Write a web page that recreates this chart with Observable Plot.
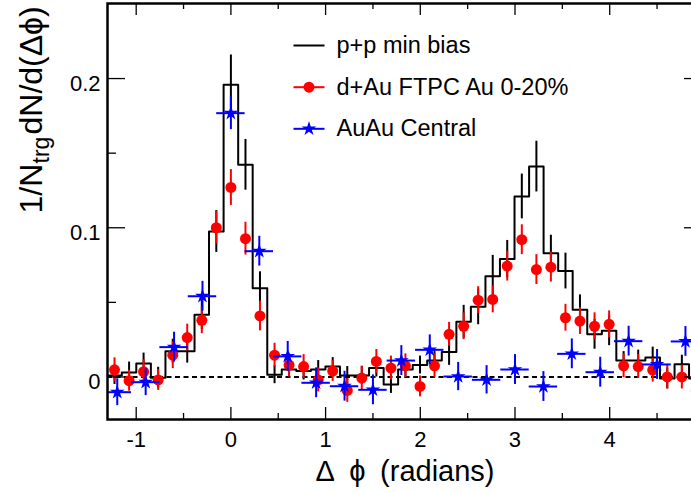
<!DOCTYPE html>
<html>
<head>
<meta charset="utf-8">
<script src="https://cdn.jsdelivr.net/npm/d3@7"></script>
<script src="https://cdn.jsdelivr.net/npm/@observablehq/plot@0.6"></script>
<style>
html, body { margin: 0; padding: 0; background: #fff; overflow: hidden; }
#chart { width: 691px; height: 493px; overflow: hidden; }
</style>
</head>
<body>
<div id="chart"></div>
<script>
// ---- data ----
// narrow bins shared by p+p and d+Au (bin centres, radians)
const narrowBins = [-1.229, -1.075, -0.922, -0.768, -0.614, -0.461, -0.307, -0.154, 0.000, 0.154,
  0.307, 0.461, 0.614, 0.768, 0.922, 1.075, 1.229, 1.382, 1.536, 1.690,
  1.843, 1.997, 2.150, 2.304, 2.458, 2.611, 2.765, 2.918, 3.072, 3.226,
  3.379, 3.533, 3.686, 3.840, 3.994, 4.147, 4.301, 4.454, 4.608, 4.762, 4.915];
const ppValues = [0.001, 0.003, 0.009, -0.0005, 0.0173, 0.0173, 0.0417, 0.0975, 0.1958, 0.1422,
  0.0595, 0.0015, 0.005, 0.004, 0.005, 0.007, 0.001, 0.001, 0.006, -0.005,
  0.005, 0.008, 0.011, 0.0168, 0.037, 0.047, 0.0675, 0.079, 0.121, 0.141,
  0.083, 0.071, 0.045, 0.0286, 0.031, 0.011, 0.011, 0.013, -0.001, 0.0086, -0.001];
const ppErrors = [0.006, 0.007, 0.007, 0.007, 0.008, 0.008, 0.01, 0.014, 0.02, 0.017,
  0.011, 0.006, 0.006, 0.006, 0.006, 0.006, 0.006, 0.006, 0.006, 0.006,
  0.006, 0.006, 0.007, 0.009, 0.011, 0.012, 0.014, 0.0125, 0.015, 0.017,
  0.012, 0.012, 0.01, 0.01, 0.01, 0.006, 0.007, 0.007, 0.007, 0.006, 0.007];
const dAuValues = [0.0048, -0.0025, 0.0035, -0.002, 0.0146, 0.0264, 0.038, 0.1, 0.127, 0.0927,
  0.0409, 0.0146, 0.008, 0.007, -0.002, 0.004, -0.009, -0.0007, 0.0104, 0.006,
  0.0075, -0.0063, 0.0075, 0.0286, 0.034, 0.0515, 0.052, 0.0743, 0.092, 0.072,
  0.0736, 0.0397, 0.0375, 0.034, 0.0353, 0.0075, 0.007, 0.0046, 0.0, 0.0, -0.009];
const dAuErrors = [0.008, 0.007, 0.008, 0.007, 0.009, 0.009, 0.009, 0.011, 0.012, 0.011,
  0.01, 0.008, 0.008, 0.008, 0.008, 0.007, 0.008, 0.008, 0.008, 0.008,
  0.008, 0.007, 0.008, 0.008, 0.009, 0.009, 0.009, 0.01, 0.01, 0.01,
  0.01, 0.009, 0.009, 0.009, 0.009, 0.008, 0.008, 0.008, 0.008, 0.008, 0.008];
// wide bins for Au+Au (bin centres, radians)
const wideBins = [-1.2, -0.9, -0.6, -0.3, 0.0, 0.3, 0.6, 0.9, 1.2, 1.5, 1.8,
  2.1, 2.4, 2.7, 3.0, 3.3, 3.6, 3.9, 4.2, 4.5, 4.8];
const wideHalfWidth = 0.15;
const auauValues = [-0.0102, -0.0035, 0.02, 0.0541, 0.1768, 0.0843, 0.0138, -0.0039, -0.0062, -0.0086, 0.011,
  0.0182, 0.0003, -0.0019, 0.005, -0.0064, 0.0155, 0.0032, 0.024, 0.0084, 0.0238];
const auauErrors = [0.009, 0.009, 0.01, 0.01, 0.011, 0.01, 0.01, 0.01, 0.01, 0.01, 0.01,
  0.01, 0.0095, 0.0095, 0.01, 0.01, 0.01, 0.01, 0.01, 0.01, 0.01];

const seriesNames = ["p+p min bias", "d+Au FTPC Au 0-20%", "AuAu Central"];
const seriesColors = ["black", "#ff0000", "#0000ff"];
const xMajorTicks = [-1, 0, 1, 2, 3, 4];
const xMinorTicks = [-0.5, 0.5, 1.5, 2.5, 3.5, 4.5];
const yMajorTicks = [0, 0.1, 0.2];
const yMinorTicks = [0.05, 0.15];
const xTickLabels = ["-1", "0", "1", "2", "3", "4"];
const yTickLabels = ["0", "0.1", "0.2"];
const xTitle = "\u0394\u2002\u03d5\u2002(radians)";
const yTitleParts = ["1/N", "trg", "dN/d(\u0394\u03d5)"];

// ---- layout ----
const W = 720, H = 493;
const M = {top: 3, right: 18, bottom: 74, left: 107};
const xDomain = [-1.303, 4.98];
const yDomain = [-0.0285, 0.2503];
const plotW = W - M.left - M.right;
const plotH = H - M.top - M.bottom;
const xPerPx = (xDomain[1] - xDomain[0]) / plotW;
const yPerPx = (yDomain[1] - yDomain[0]) / plotH;

// tables built from the arrays
const pp = narrowBins.map((x, i) => ({x, y: ppValues[i], e: ppErrors[i]}));
const half = (narrowBins[1] - narrowBins[0]) / 2;
const ppStep = pp.map(d => ({x: d.x - half, y: d.y}));
ppStep.push({x: pp[pp.length - 1].x + half, y: pp[pp.length - 1].y});
const dAu = narrowBins.map((x, i) => ({x, y: dAuValues[i], e: dAuErrors[i]}));
const auau = wideBins.map((x, i) => ({x, y: auauValues[i], e: auauErrors[i]}));
const xLabels = xMajorTicks.map((v, i) => ({v, t: xTickLabels[i]}));
const yLabels = yMajorTicks.map((v, i) => ({v, t: yTickLabels[i]}));

const hline = {draw(ctx, size) { const r = Math.sqrt(size / Math.PI); ctx.moveTo(-r, 0); ctx.lineTo(r, 0); }};
const font = "'Liberation Sans', Arial, Helvetica, sans-serif";

const legendRowsDy = [42, 83.7, 125.3];
const legendDx = 201.5, legendTextDx = 229;

const marks = [
  Plot.ruleY([0], {strokeDasharray: "5,3.5", strokeWidth: 2, stroke: "black"}),
  // p+p histogram
  Plot.line(ppStep, {x: "x", y: "y", curve: "step-after", stroke: seriesColors[0], strokeWidth: 2, clip: true}),
  Plot.ruleX(pp, {x: "x", y1: d => d.y - d.e, y2: d => d.y + d.e, stroke: seriesColors[0], strokeWidth: 2, clip: true}),
  // d+Au
  Plot.ruleX(dAu, {x: "x", y1: d => d.y - d.e, y2: d => d.y + d.e, stroke: seriesColors[1], strokeWidth: 2, clip: true}),
  Plot.dot(dAu, {x: "x", y: "y", r: 5.5, fill: seriesColors[1], stroke: "none", clip: true}),
  // Au+Au
  Plot.ruleX(auau, {x: "x", y1: d => d.y - d.e, y2: d => d.y + d.e, stroke: seriesColors[2], strokeWidth: 2, clip: true}),
  Plot.ruleY(auau, {y: "y", x1: d => d.x - wideHalfWidth, x2: d => d.x + wideHalfWidth, stroke: seriesColors[2], strokeWidth: 2, clip: true}),
  Plot.dot(auau, {x: "x", y: "y", r: 4.6, symbol: "star", fill: seriesColors[2], stroke: "none", clip: true}),
  // inward ticks
  Plot.ruleX(xMajorTicks, {x: d => d, y1: yDomain[0], y2: yDomain[0] + 12 * yPerPx, strokeWidth: 1.3}),
  Plot.ruleX(xMinorTicks, {x: d => d, y1: yDomain[0], y2: yDomain[0] + 6 * yPerPx, strokeWidth: 1.3}),
  Plot.ruleX(xMajorTicks, {x: d => d, y1: yDomain[1], y2: yDomain[1] - 12 * yPerPx, strokeWidth: 1.3}),
  Plot.ruleX(xMinorTicks, {x: d => d, y1: yDomain[1], y2: yDomain[1] - 6 * yPerPx, strokeWidth: 1.3}),
  Plot.ruleY(yMajorTicks, {y: d => d, x1: xDomain[0], x2: xDomain[0] + 18 * xPerPx, strokeWidth: 1.3}),
  Plot.ruleY(yMinorTicks, {y: d => d, x1: xDomain[0], x2: xDomain[0] + 9 * xPerPx, strokeWidth: 1.3}),
  Plot.ruleY(yMajorTicks, {y: d => d, x1: xDomain[1], x2: xDomain[1] - 18 * xPerPx, strokeWidth: 1.3}),
  Plot.ruleY(yMinorTicks, {y: d => d, x1: xDomain[1], x2: xDomain[1] - 9 * xPerPx, strokeWidth: 1.3}),
  Plot.frame({stroke: "black", strokeWidth: 2.5}),
  // tick labels
  Plot.text(xLabels, {x: "v", text: "t", frameAnchor: "bottom", lineAnchor: "top", dy: 12, fontSize: 22}),
  Plot.text(yLabels, {y: "v", text: "t", frameAnchor: "left", textAnchor: "end", lineAnchor: "middle", dx: -7, dy: 5, fontSize: 22}),
  // axis titles
  Plot.text([xTitle], {frameAnchor: "bottom", dy: 61, lineAnchor: "bottom", fontSize: 29, text: d => d}),
  Plot.text([yTitleParts[0]], {frameAnchor: "top-left", dx: 41 - M.left, dy: 213 - M.top, rotate: -90, textAnchor: "start", lineAnchor: "bottom", fontSize: 32, text: d => d}),
  Plot.text([yTitleParts[1]], {frameAnchor: "top-left", dx: 48 - M.left, dy: 163 - M.top, rotate: -90, textAnchor: "start", lineAnchor: "bottom", fontSize: 23, text: d => d}),
  Plot.text([yTitleParts[2]], {frameAnchor: "top-left", dx: 41 - M.left, dy: 134 - M.top, rotate: -90, textAnchor: "start", lineAnchor: "bottom", fontSize: 32, text: d => d}),
  // legend
  Plot.dot([0], {frameAnchor: "top-left", dx: legendDx, dy: legendRowsDy[0], symbol: hline, r: 15.5, stroke: seriesColors[0], strokeWidth: 2, fill: "none"}),
  Plot.dot([0], {frameAnchor: "top-left", dx: legendDx, dy: legendRowsDy[1], symbol: hline, r: 15.5, stroke: seriesColors[1], strokeWidth: 2, fill: "none"}),
  Plot.dot([0], {frameAnchor: "top-left", dx: legendDx, dy: legendRowsDy[1], r: 5.5, fill: seriesColors[1], stroke: "none"}),
  Plot.dot([0], {frameAnchor: "top-left", dx: legendDx, dy: legendRowsDy[2], symbol: hline, r: 15.5, stroke: seriesColors[2], strokeWidth: 2, fill: "none"}),
  Plot.dot([0], {frameAnchor: "top-left", dx: legendDx, dy: legendRowsDy[2], r: 4.6, symbol: "star", fill: seriesColors[2], stroke: "none"}),
  ...seriesNames.map((name, i) => Plot.text([name], {frameAnchor: "top-left", dx: legendTextDx, dy: legendRowsDy[i], textAnchor: "start", lineAnchor: "middle", fontSize: 23.5, text: d => d}))
];

const chart = Plot.plot({
  width: W, height: H,
  marginTop: M.top, marginRight: M.right, marginBottom: M.bottom, marginLeft: M.left,
  x: {domain: xDomain, axis: null},
  y: {domain: yDomain, axis: null},
  style: {fontFamily: font, fontSize: "21px", background: "white", color: "black", maxWidth: "none", overflow: "visible"},
  marks
});
document.getElementById("chart").appendChild(chart);
</script>
</body>
</html>
